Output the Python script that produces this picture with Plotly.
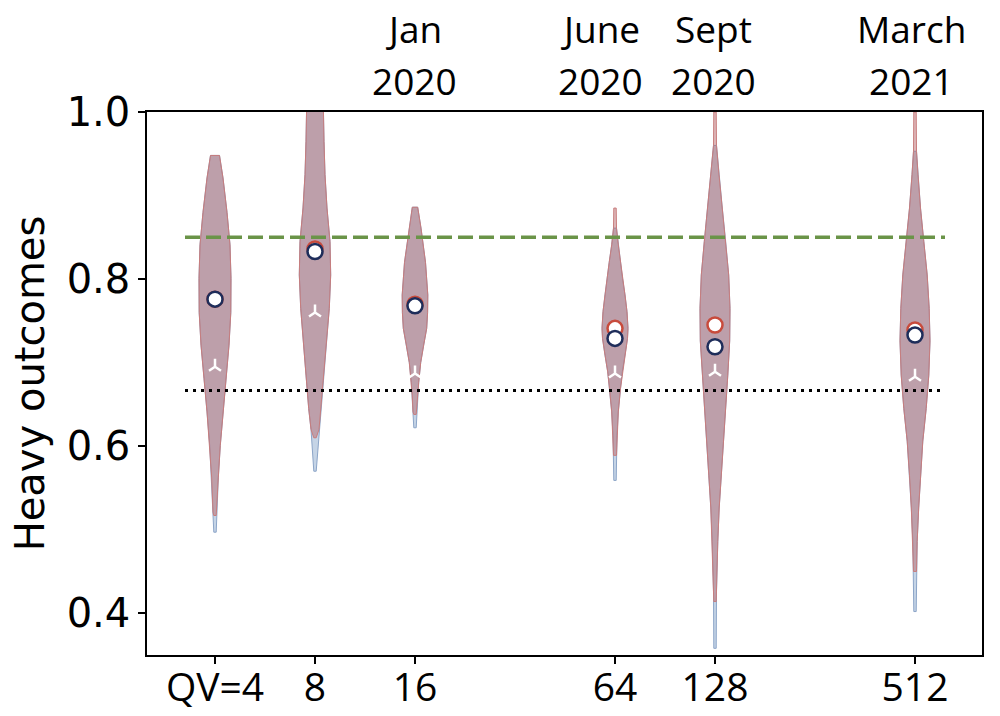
import numpy as np
import plotly.graph_objects as go

# ---------------- data ----------------
qv = [4, 8, 16, 64, 128, 512]
qv_labels = ["QV=4", "8", "16", "64", "128", "512"]

# violin body profiles: y levels (top -> bottom) and half-widths (log2-axis units)
profile_y = [
    [0.948, 0.921, 0.880, 0.841, 0.801, 0.760, 0.721, 0.681, 0.641, 0.601, 0.562, 0.521],
    [1.030, 1.000, 0.965, 0.925, 0.885, 0.845, 0.805, 0.765, 0.726, 0.685, 0.645, 0.620],
    [0.886, 0.861, 0.820, 0.781, 0.760, 0.741, 0.721, 0.700, 0.676, 0.661, 0.641],
    [0.861, 0.841, 0.820, 0.801, 0.781, 0.761, 0.741, 0.729, 0.709, 0.689, 0.669, 0.641, 0.613, 0.589],
    [0.960, 0.925, 0.885, 0.845, 0.805, 0.765, 0.726, 0.685, 0.645, 0.606, 0.565, 0.526, 0.486, 0.446, 0.426],
    [0.953, 0.925, 0.885, 0.845, 0.805, 0.765, 0.726, 0.685, 0.645, 0.606, 0.565, 0.526, 0.486, 0.450],
]
profile_w = [
    [0.045, 0.080, 0.120, 0.150, 0.160, 0.158, 0.140, 0.110, 0.080, 0.053, 0.033, 0.020],
    [0.080, 0.082, 0.090, 0.100, 0.120, 0.150, 0.157, 0.143, 0.117, 0.090, 0.063, 0.040],
    [0.027, 0.060, 0.105, 0.128, 0.126, 0.117, 0.087, 0.057, 0.037, 0.028, 0.020],
    [0.015, 0.033, 0.058, 0.075, 0.100, 0.120, 0.130, 0.125, 0.100, 0.073, 0.055, 0.033, 0.020, 0.015],
    [0.015, 0.040, 0.073, 0.107, 0.137, 0.150, 0.147, 0.128, 0.105, 0.083, 0.062, 0.042, 0.028, 0.017, 0.015],
    [0.015, 0.030, 0.055, 0.088, 0.122, 0.142, 0.150, 0.138, 0.112, 0.078, 0.055, 0.037, 0.022, 0.015],
]
# extremes of each distribution (tails)
red_min = [0.517, 0.610, 0.638, 0.589, 0.414, 0.450]
red_max = [0.948, 1.030, 0.886, 0.885, 1.000, 1.000]
blue_min = [0.497, 0.570, 0.622, 0.559, 0.358, 0.402]
blue_max = [0.948, 1.030, 0.886, 0.861, 0.960, 0.953]

red_mean = [0.776, 0.836, 0.770, 0.741, 0.745, 0.739]
blue_mean = [0.776, 0.833, 0.768, 0.729, 0.719, 0.733]
median_vals = [0.695, 0.760, 0.687, 0.687, 0.689, 0.683]

ref_high = 0.85
ref_low = 2 / 3
ref_x_range = [1.70, 9.30]

top_qv = [16, 64, 128, 512]
top_month = ["Jan", "June", "Sept", "March"]
top_year = ["2020", "2020", "2020", "2021"]
top_shift = [-1, -15, -2, -4]

# ---------------- styles ----------------
TAIL = 0.012
BLUE_FILL = "rgba(140,170,205,0.5)"
BLUE_EDGE = "rgb(140,165,200)"
RED_FILL = "rgba(180,95,100,0.46)"
RED_EDGE = "rgb(200,125,125)"
TICK_FONT = "Open Sans, DejaVu Sans, sans-serif"


def violin_path(c, ys, ws, lo, hi):
    xs_r, ys_r = [], []
    if hi > ys[0]:
        xs_r.append(c + TAIL); ys_r.append(hi)
    xs_r += [c + w for w in ws]; ys_r += list(ys)
    if lo < ys[-1]:
        xs_r.append(c + TAIL); ys_r.append(lo)
    xs_l = [c - (x - c) for x in xs_r][::-1]
    ys_l = ys_r[::-1]
    return xs_r + xs_l + [xs_r[0]], ys_r + ys_l + [ys_r[0]]


fig = go.Figure()
pos = np.log2(qv)

for i, c in enumerate(pos):
    bx, by = violin_path(c, profile_y[i], profile_w[i], blue_min[i], blue_max[i])
    fig.add_trace(go.Scatter(x=bx, y=by, mode="lines", fill="toself",
                             fillcolor=BLUE_FILL, line=dict(color=BLUE_EDGE, width=1),
                             hoverinfo="skip", showlegend=False))
for i, c in enumerate(pos):
    rx, ry = violin_path(c, profile_y[i], profile_w[i], red_min[i], red_max[i])
    fig.add_trace(go.Scatter(x=rx, y=ry, mode="lines", fill="toself",
                             fillcolor=RED_FILL, line=dict(color=RED_EDGE, width=1),
                             hoverinfo="skip", showlegend=False))

# reference lines
fig.add_trace(go.Scatter(x=ref_x_range, y=[ref_high, ref_high], mode="lines",
                         line=dict(color="rgb(106,148,72)", width=3.5, dash="15px,6px"),
                         showlegend=False, hoverinfo="skip"))
fig.add_trace(go.Scatter(x=ref_x_range, y=[ref_low, ref_low], mode="lines",
                         line=dict(color="black", width=3, dash="3px,5px"),
                         showlegend=False, hoverinfo="skip"))

# markers
fig.add_trace(go.Scatter(x=pos, y=red_mean, mode="markers",
                         marker=dict(symbol="circle", size=15, color="white",
                                     line=dict(color="rgb(200,75,60)", width=2.5)),
                         showlegend=False))
fig.add_trace(go.Scatter(x=pos, y=blue_mean, mode="markers",
                         marker=dict(symbol="circle", size=15, color="white",
                                     line=dict(color="rgb(30,45,90)", width=2.5)),
                         showlegend=False))
fig.add_trace(go.Scatter(x=pos, y=median_vals, mode="markers",
                         marker=dict(symbol="y-up", size=10, color="white",
                                     line=dict(color="white", width=2.5)),
                         showlegend=False))

for q, m, yr, sh in zip(top_qv, top_month, top_year, top_shift):
    fig.add_annotation(x=np.log2(q), y=1.1529, xref="x", yref="paper", text=m,
                       showarrow=False, xanchor="center", yanchor="middle", xshift=sh,
                       font=dict(family=TICK_FONT, size=37, color="black"))
    fig.add_annotation(x=np.log2(q), y=1.0571, xref="x", yref="paper", text=yr,
                       showarrow=False, xanchor="center", yanchor="middle", xshift=sh,
                       font=dict(family=TICK_FONT, size=37, color="black"))

fig.update_layout(
    width=1000, height=716,
    margin=dict(l=147, r=18, t=112, b=61, autoexpand=False),
    plot_bgcolor="white", paper_bgcolor="white",
    xaxis=dict(range=[1.32, 9.67], tickvals=pos, ticktext=qv_labels,
               ticks="outside", ticklen=7, tickwidth=1.5, tickcolor="black",
               showline=True, mirror=True, linecolor="black", linewidth=1.5,
               showgrid=False, zeroline=False, automargin=False,
               ticklabelstandoff=-10,
               tickfont=dict(family=TICK_FONT, size=39, color="black")),
    yaxis=dict(range=[0.35, 1.0], tickvals=[0.4, 0.6, 0.8, 1.0], tickformat=".1f",
               ticks="outside", ticklen=7, tickwidth=1.5, tickcolor="black",
               showline=True, mirror=True, linecolor="black", linewidth=1.5,
               showgrid=False, zeroline=False, automargin=False,
               tickfont=dict(family="DejaVu Sans", size=40, color="black"),
               title=dict(text="Heavy outcomes", standoff=10,
                          font=dict(family="DejaVu Sans", size=40, color="black"))),
)

fig.write_html("out.html")
